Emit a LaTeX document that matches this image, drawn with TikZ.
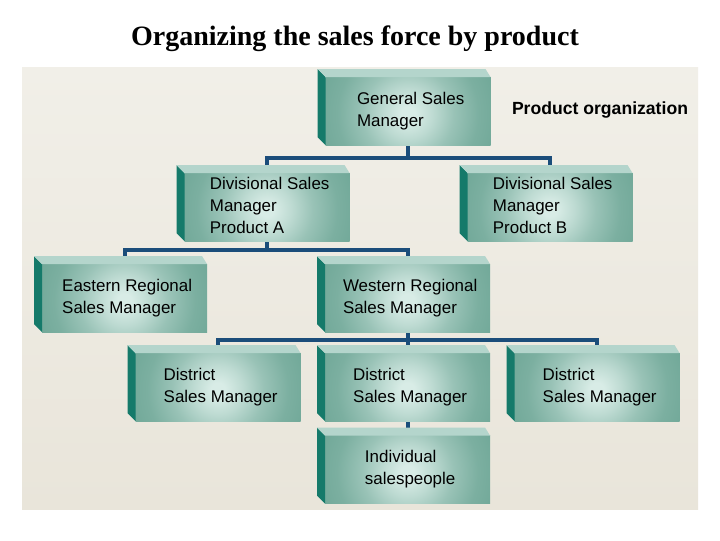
\documentclass[tikz,border=0pt]{standalone}
\usepackage{fontspec}
\setmainfont{Liberation Serif}
\setsansfont{Liberation Sans}
\usepackage{xcolor}
\usetikzlibrary{
    positioning,
    calc,
    backgrounds
}
\definecolor{boxteal}{HTML}{6FA797}
\definecolor{boxlight}{HTML}{D8ECE6}
\colorlet{glowa}{boxlight!75!boxteal}
\colorlet{glowb}{boxlight!40!boxteal}
\colorlet{glowc}{boxlight!12!boxteal}
\definecolor{sidedark}{HTML}{157A6A}
\definecolor{toplight}{HTML}{B4D5CC}
\definecolor{linknavy}{HTML}{1B4D7A}
\definecolor{paneltop}{HTML}{F1EFE8}
\definecolor{panelbottom}{HTML}{E9E5DA}
\pgfdeclareradialshading{glow}{\pgfpoint{0bp}{0bp}}{color(0bp)=(boxlight); color(2bp)=(boxlight); color(7bp)=(glowa); color(13bp)=(glowb); color(20bp)=(glowc); color(27bp)=(boxteal); color(50bp)=(boxteal)}
\pgfdeclarelayer{panel}
\pgfsetlayers{panel,background,main}
\newcommand{\mgrtext}[1]{\begin{tabular}{@{\hspace{4pt}}l@{}}#1\end{tabular}}

\begin{document}
\begin{tikzpicture}[
        x=0.75pt, y=-0.75pt,
        mgr/.style={rectangle, fill=boxteal, minimum width=123.75pt, minimum height=51pt,
            inner sep=0pt, outer sep=0pt,
            path picture={\shade[shading=glow] ([shift={(-66pt,-68pt)}]path picture bounding box.center) rectangle ++(132pt,132pt);},
            font=\sffamily\fontsize{12.7}{16.4}\selectfont},
        sideface/.style={fill=sidedark},
        topface/.style={fill=toplight},
        link/.style={draw=linknavy, line width=3pt}
    ]
        \useasboundingbox (0,0) rectangle (720,540);
        \begin{pgfonlayer}{panel}
            \fill[white] (0,0) rectangle (720,540);
            \shade[top color=paneltop, bottom color=panelbottom] (22,67) rectangle (698,509);
        \end{pgfonlayer}

        \node[font=\bfseries\fontsize{21}{25}\selectfont] (title) at (355,39) {Organizing the sales force by product};
        \node[font=\sffamily\bfseries\fontsize{13.2}{16}\selectfont] (kind) at (600,110) {Product organization};

        \node[mgr] (gsm) at (408,111) {\mgrtext{General Sales\\Manager}};
        \node[mgr] (diva) at (267,207) {\mgrtext{Divisional Sales\\Manager\\Product A}};
        \node[mgr] (divb) at (550,207) {\mgrtext{Divisional Sales\\Manager\\Product B}};
        \node[mgr] (east) at (124.5,298) {\mgrtext{Eastern Regional\\Sales Manager}};
        \node[mgr] (west) at (407.5,298) {\mgrtext{Western Regional\\Sales Manager}};
        \node[mgr] (dist1) at (218,387) {\mgrtext{District\\Sales Manager}};
        \node[mgr] (dist2) at (407.5,387) {\mgrtext{District\\Sales Manager}};
        \node[mgr] (dist3) at (597,387) {\mgrtext{District\\Sales Manager}};
        \node[mgr] (indiv) at (407.5,469.5) {\mgrtext{Individual\\salespeople}};

        % side and top faces of the boxes
        \foreach \n in {gsm,diva,divb,east,west,dist1,dist2,dist3,indiv} {
            \fill[sideface] (\n.north west) -- ++(-8,-8) -- ($(\n.south west)+(-8,-8)$) -- (\n.south west) -- cycle;
            \fill[topface] (\n.north west) -- ++(-8,-8) -- ($(\n.north east)+(-5,-8)$) -- (\n.north east) -- cycle;
        }

        % bus levels
        \coordinate (bus1) at (0,158);
        \coordinate (bus2) at (0,250);
        \coordinate (bus3) at (0,340);

        \begin{scope}[on background layer]
            \draw[link] (gsm.south) -- (gsm.south |- bus1);
            \draw[link] (diva.north) |- (bus1 -| gsm.south) -| (divb.north);
            \draw[link] (diva.south) -- (diva.south |- bus2);
            \draw[link] (east.north) |- (bus2 -| diva.south) -| (west.north);
            \draw[link] (west.south) -- (dist2.north);
            \draw[link] (dist1.north) |- (bus3 -| west.south) -| (dist3.north);
            \draw[link] (dist2.south) -- (indiv.north);
        \end{scope}
    \end{tikzpicture}
\end{document}
